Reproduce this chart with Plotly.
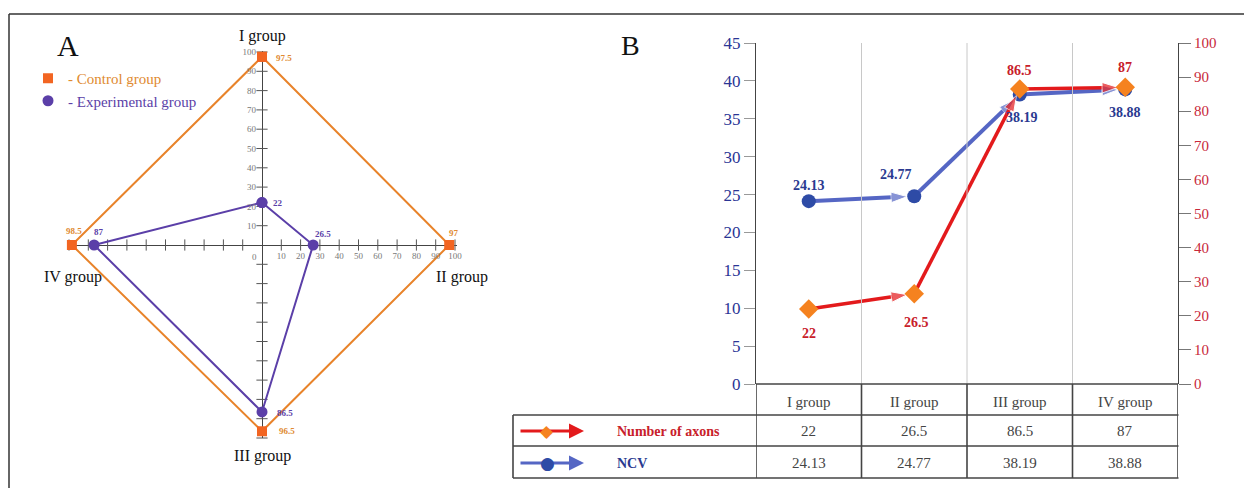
import plotly.graph_objects as go

# The page body adds an 8 px offset; the figure is laid out in reference-pixel
# coordinates shifted by that offset.
OFF = 8
W, H = 1252 - OFF, 488 - OFF

# ---------------- data ----------------
groups = ["I group", "II group", "III group", "IV group"]
control = [97.5, 97, 96.5, 98.5]          # panel A, control group
experimental = [22, 26.5, 86.5, 87]       # panel A, experimental group
radar_ticks = list(range(10, 101, 10))    # panel A axis ticks

categories = ["I group", "II group", "III group", "IV group"]
axons = [22, 26.5, 86.5, 87]              # Number of axons (right axis)
ncv = [24.13, 24.77, 38.19, 38.88]        # NCV (left axis)
left_ticks = list(range(0, 46, 5))
right_ticks = list(range(0, 101, 10))

SERIF = "Liberation Serif, Times New Roman, serif"


def px(x):
    return (x - OFF) / W


def py(y):
    return 1 - (y - OFF) / H


# radial direction of each group in panel A (up, right, down, left)
dirs = [(0, 1), (1, 0), (0, -1), (-1, 0)]


def radar_xy(vals):
    xs = [d[0] * v for d, v in zip(dirs, vals)]
    ys = [d[1] * v for d, v in zip(dirs, vals)]
    return xs + xs[:1], ys + ys[:1]


def ptext(x, y, text, font, xanchor="center"):
    return dict(x=px(x), y=py(y), xref="paper", yref="paper", text=text, showarrow=False,
                xanchor=xanchor, yanchor="middle", font=font)


C_OR_LINE, C_OR_MARK, C_OR_TXT = "#E8832A", "#F26522", "#E08A30"
C_PU = "#5B3FA8"
C_RED, C_DIAM = "#E31A1C", "#F5821F"
C_BLUE_LINE, C_BLUE_MARK = "#5566C4", "#2E4BA6"
C_NAVY_TXT, C_RED_TXT = "#2A3A90", "#C8202A"

fig = go.Figure()

# ---------------- panel A ----------------
tx = [-v for v in radar_ticks] + radar_ticks
fig.add_trace(go.Scatter(x=tx, y=[0] * len(tx), mode="markers", xaxis="x2", yaxis="y2",
                         marker=dict(symbol="line-ns", size=8, line=dict(width=1, color="#555")),
                         showlegend=False, hoverinfo="skip", cliponaxis=False))
fig.add_trace(go.Scatter(x=[0] * len(tx), y=tx, mode="markers", xaxis="x2", yaxis="y2",
                         marker=dict(symbol="line-ew", size=8, line=dict(width=1, color="#555")),
                         showlegend=False, hoverinfo="skip", cliponaxis=False))

cx, cy = radar_xy(control)
fig.add_trace(go.Scatter(x=cx, y=cy, mode="lines+markers", xaxis="x2", yaxis="y2",
                         line=dict(color=C_OR_LINE, width=2),
                         marker=dict(symbol="square", size=10, color=C_OR_MARK),
                         showlegend=False, cliponaxis=False, name="Control group"))
ex, ey = radar_xy(experimental)
fig.add_trace(go.Scatter(x=ex, y=ey, mode="lines+markers", xaxis="x2", yaxis="y2",
                         line=dict(color=C_PU, width=2),
                         marker=dict(symbol="circle", size=11, color=C_PU),
                         showlegend=False, cliponaxis=False, name="Experimental group"))

# legend entries
fig.add_trace(go.Scatter(x=[None], y=[None], mode="markers", xaxis="x2", yaxis="y2",
                         marker=dict(symbol="square", size=10, color=C_OR_MARK),
                         name=f'<span style="color:{C_OR_TXT}">- Control group</span>'))
fig.add_trace(go.Scatter(x=[None], y=[None], mode="markers", xaxis="x2", yaxis="y2",
                         marker=dict(symbol="circle", size=11, color=C_PU),
                         name=f'<span style="color:{C_PU}">- Experimental group</span>'))

annotations = []
ctrl_shift = [(22, -1), (5, 12), (25, 0), (2, 14)]
exp_shift = [(16, 0), (10, 11), (23, -1), (5, 13)]
for i in range(4):
    annotations.append(dict(x=cx[i], y=cy[i], xref="x2", yref="y2", text=f"<b>{control[i]:g}</b>",
                            showarrow=False, xshift=ctrl_shift[i][0], yshift=ctrl_shift[i][1],
                            font=dict(family=SERIF, size=9, color=C_OR_TXT)))
    annotations.append(dict(x=ex[i], y=ey[i], xref="x2", yref="y2", text=f"<b>{experimental[i]:g}</b>",
                            showarrow=False, xshift=exp_shift[i][0], yshift=exp_shift[i][1],
                            font=dict(family=SERIF, size=9, color=C_PU)))

group_pos = [(262, 36), (462, 277), (262, 456), (73, 277)]
for g, (gx, gy) in zip(groups, group_pos):
    annotations.append(ptext(gx, gy, g, dict(family=SERIF, size=16, color="#111")))
annotations.append(ptext(254, 257, "0", dict(family=SERIF, size=9, color="#777")))
annotations.append(ptext(68, 45, "A", dict(family=SERIF, size=30, color="#111")))
annotations.append(ptext(630, 45, "B", dict(family=SERIF, size=28, color="#111")))

# ---------------- panel B ----------------
xi = list(range(len(categories)))
fig.add_trace(go.Scatter(x=xi, y=axons, mode="lines+markers", xaxis="x", yaxis="y3",
                         line=dict(color=C_RED, width=3.5),
                         marker=dict(symbol="arrow", angleref="previous", standoff=7,
                                     size=[0] + [17] * (len(axons) - 1), color=C_RED),
                         showlegend=False, cliponaxis=False))
fig.add_trace(go.Scatter(x=xi, y=axons, mode="markers", xaxis="x", yaxis="y3",
                         marker=dict(symbol="diamond", size=15, color=C_DIAM),
                         showlegend=False, cliponaxis=False))
fig.add_trace(go.Scatter(x=xi, y=ncv, mode="lines+markers", xaxis="x", yaxis="y",
                         line=dict(color=C_BLUE_LINE, width=4),
                         marker=dict(symbol="arrow", angleref="previous", standoff=7,
                                     size=[0] + [17] * (len(ncv) - 1), color=C_BLUE_LINE),
                         showlegend=False, cliponaxis=False))
fig.add_trace(go.Scatter(x=xi, y=ncv, mode="markers", xaxis="x", yaxis="y",
                         marker=dict(symbol="circle", size=14, color=C_BLUE_MARK),
                         showlegend=False, cliponaxis=False))

ncv_shift = [(0, 16), (-18, 22), (2, -23), (0, -23)]
ax_shift = [(0, -25), (2, -29), (0, 19), (0, 20)]
for i in xi:
    annotations.append(dict(x=i, y=ncv[i], xref="x", yref="y", text=f"<b>{ncv[i]:g}</b>", showarrow=False,
                            xshift=ncv_shift[i][0], yshift=ncv_shift[i][1],
                            font=dict(family=SERIF, size=14, color=C_NAVY_TXT)))
    annotations.append(dict(x=i, y=axons[i], xref="x", yref="y3", text=f"<b>{axons[i]:g}</b>", showarrow=False,
                            xshift=ax_shift[i][0], yshift=ax_shift[i][1],
                            font=dict(family=SERIF, size=14, color=C_RED_TXT)))

# table values
row_y = [431, 463]
for i in xi:
    for r, vals in enumerate([axons, ncv]):
        annotations.append(dict(x=i, y=py(row_y[r]), xref="x", yref="paper", text=f"{vals[i]:g}",
                                showarrow=False, xanchor="center", yanchor="middle",
                                font=dict(family=SERIF, size=15, color="#444")))
# table row labels and legend glyphs
annotations.append(ptext(615, row_y[0], "<b>Number of axons</b>",
                         dict(family=SERIF, size=14, color=C_RED_TXT), xanchor="left"))
annotations.append(ptext(615, row_y[1], "<b>NCV</b>",
                         dict(family=SERIF, size=14, color=C_NAVY_TXT), xanchor="left"))
for ry, col, glyph, gcol in [(row_y[0], C_RED, "◆", C_DIAM), (row_y[1], C_BLUE_LINE, "●", C_BLUE_MARK)]:
    annotations.append(dict(x=px(584), y=py(ry), xref="paper", yref="paper", ax=-65, ay=0,
                            text="", showarrow=True, arrowhead=2, arrowsize=1.0, arrowwidth=3,
                            arrowcolor=col))
    annotations.append(ptext(547, ry, glyph, dict(family="DejaVu Sans", size=17, color=gcol)))

# shapes: gridlines, table, frame
shapes = []
for i in range(len(categories) - 1):
    shapes.append(dict(type="line", xref="x", yref="y", x0=i + 0.5, x1=i + 0.5, y0=0, y1=45,
                       line=dict(color="#C8C8C8", width=1)))
TL = dict(color="#444", width=1.6)
x_left, x_right = -0.5, len(categories) - 0.5
shapes.append(dict(type="line", xref="x", yref="paper", x0=x_left, x1=x_right, y0=py(384), y1=py(384), line=TL))
for yl in [415, 446, 478]:
    shapes.append(dict(type="line", xref="paper", yref="paper", x0=px(513), x1=px(1178.5),
                       y0=py(yl), y1=py(yl), line=TL))
for k in range(len(categories) + 1):
    shapes.append(dict(type="line", xref="x", yref="paper", x0=k - 0.5, x1=k - 0.5,
                       y0=py(384), y1=py(478), line=TL))
shapes.append(dict(type="line", xref="paper", yref="paper", x0=px(513), x1=px(513),
                   y0=py(415), y1=py(478), line=TL))
FR = dict(color="#333", width=1.5)
shapes.append(dict(type="line", xref="paper", yref="paper", x0=px(9), x1=1, y0=py(14), y1=py(14), line=FR))
shapes.append(dict(type="line", xref="paper", yref="paper", x0=px(9), x1=px(9), y0=py(14), y1=0, line=FR))

scale = 1.93  # px per unit in panel A
fig.update_layout(
    width=W, height=H, margin=dict(l=0, r=0, t=0, b=0, autoexpand=False),
    paper_bgcolor="white", plot_bgcolor="rgba(0,0,0,0)",
    showlegend=True,
    legend=dict(x=px(28), y=py(62), xanchor="left", yanchor="top", bgcolor="rgba(0,0,0,0)",
                font=dict(family=SERIF, size=15), tracegroupgap=0, itemwidth=30),
    annotations=annotations, shapes=shapes,
    xaxis=dict(domain=[px(756), px(1178)], range=[-0.5, 3.5], tickvals=xi, ticktext=categories,
               showgrid=False, zeroline=False, showline=False, ticks="", ticklabelstandoff=7,
               automargin=False,
               tickfont=dict(family=SERIF, size=15, color="#444"), anchor="y"),
    yaxis=dict(domain=[py(384), py(43)], range=[0, 45], tickvals=left_ticks, showgrid=False,
               zeroline=False, showline=True, linecolor="#444", linewidth=1, ticks="outside",
               ticklen=11, tickcolor="#999", automargin=False,
               tickfont=dict(family=SERIF, size=17, color="#2A3595"), anchor="x"),
    yaxis3=dict(domain=[py(384), py(43)], range=[0, 100], tickvals=right_ticks, overlaying="y",
                side="right", anchor="x", showgrid=False, zeroline=False, showline=True,
                linecolor="#444", linewidth=1, ticks="outside", ticklen=12, tickcolor="#777",
                automargin=False, tickfont=dict(family=SERIF, size=15, color="#C8283A")),
    xaxis2=dict(domain=[px(68), px(457)], range=[(68 - 262) / scale, (457 - 262) / scale],
                anchor="free", position=py(245), tickvals=radar_ticks, ticks="", showgrid=False,
                zeroline=True, zerolinecolor="#444", zerolinewidth=1, showline=False,
                automargin=False,
                ticklabelstandoff=4, tickfont=dict(family=SERIF, size=9, color="#777")),
    yaxis2=dict(domain=[py(438), py(51)], range=[-(438 - 245) / scale, (245 - 51) / scale],
                anchor="free", position=px(262), tickvals=radar_ticks, ticks="", showgrid=False,
                zeroline=True, zerolinecolor="#444", zerolinewidth=1, showline=False,
                automargin=False,
                ticklabelstandoff=6, tickfont=dict(family=SERIF, size=9, color="#777")),
)

fig.write_html("out.html")
